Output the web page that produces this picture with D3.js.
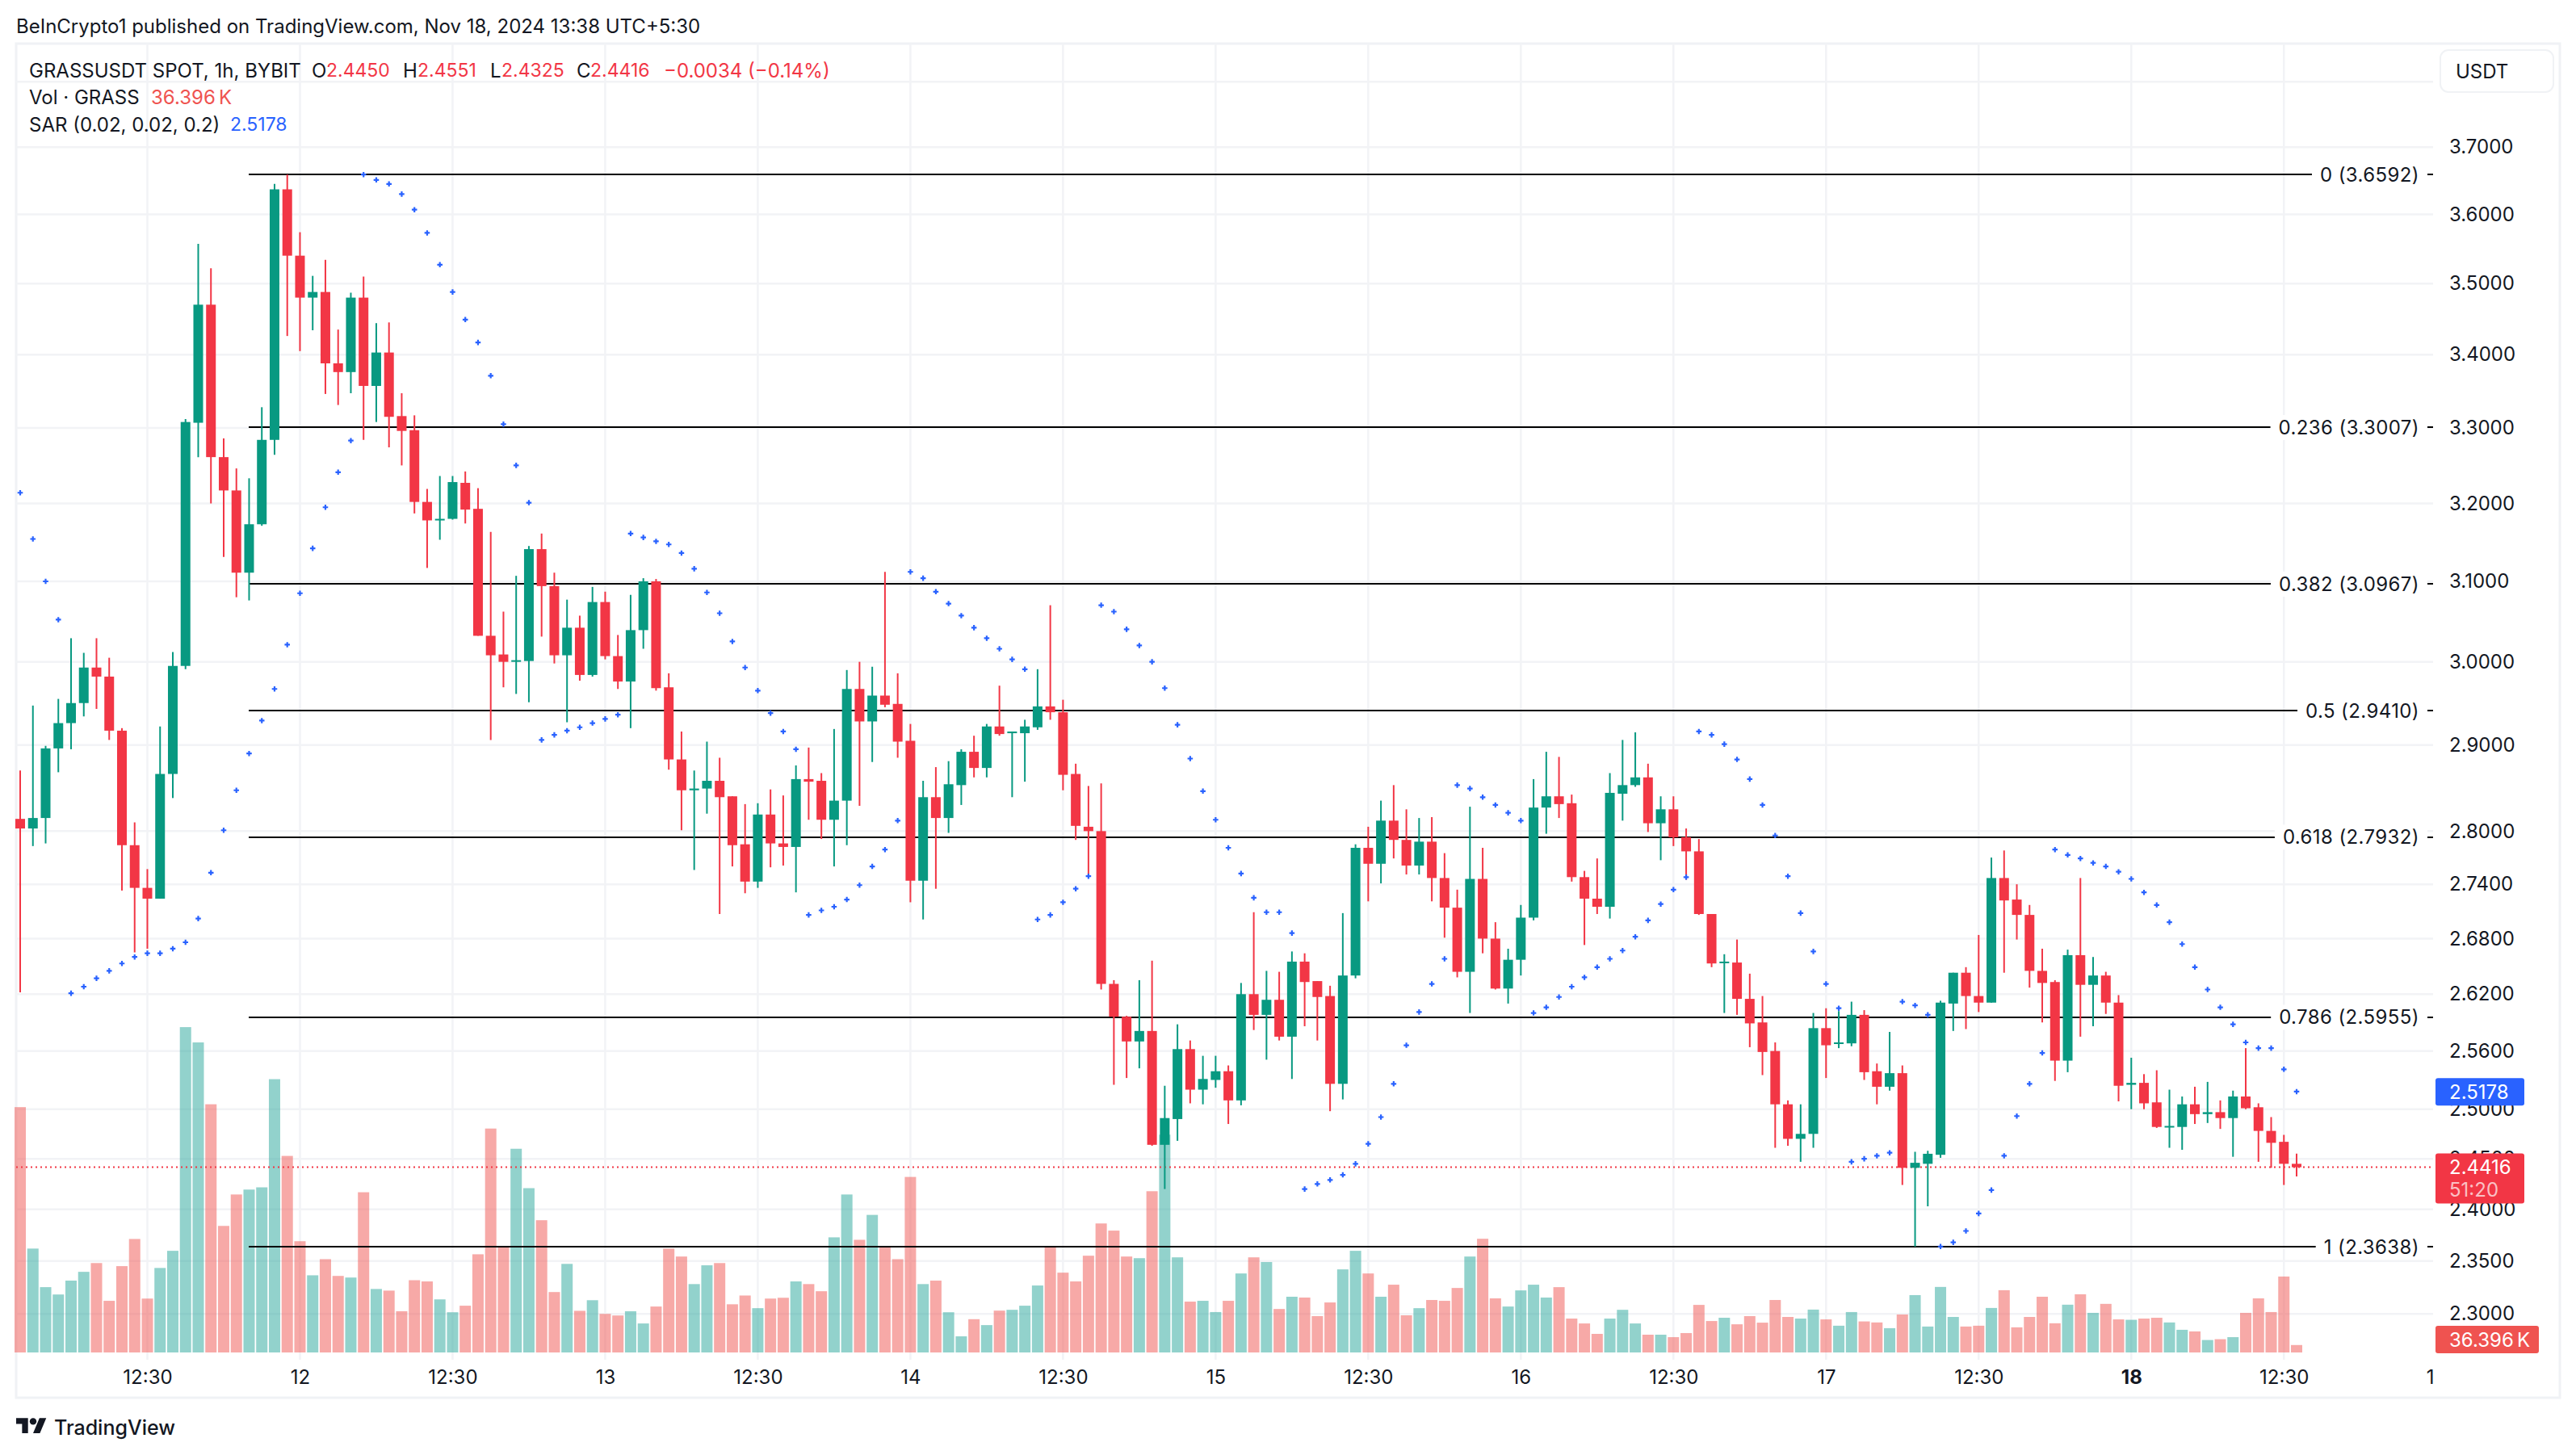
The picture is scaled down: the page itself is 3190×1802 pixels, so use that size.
<!DOCTYPE html>
<html>
<head>
<meta charset="utf-8">
<script src="https://cdn.jsdelivr.net/npm/d3@7"></script>
<style>
  body { margin: 0; background: #fff; }
  text { font-family: Inter, "Noto Sans", sans-serif; fill: #131722; }
</style>
</head>
<body>
<div id="chart"></div>
<script>
// hourly candles
var opens = [
  2.814,2.803,2.815,2.896,2.926,2.950,2.993,2.982,2.917,2.784,
  2.736,2.724,2.866,2.995,3.307,3.470,3.261,3.217,3.111,3.173,
  3.284,3.637,3.540,3.480,3.488,3.388,3.376,3.480,3.357,3.403,
  3.316,3.297,3.202,3.178,3.180,3.227,3.193,3.032,3.009,3.000,
  3.001,3.141,3.094,3.008,3.042,2.984,3.074,3.007,2.976,3.039,
  3.100,2.969,2.883,2.847,2.849,2.858,2.840,2.785,2.743,2.819,
  2.786,2.782,2.860,2.858,2.813,2.835,2.967,2.928,2.959,2.949,
  2.905,2.744,2.839,2.815,2.853,2.892,2.873,2.922,2.914,2.914,
  2.921,2.946,2.939,2.866,2.805,2.800,2.631,2.596,2.570,2.581,
  2.464,2.490,2.562,2.520,2.530,2.539,2.509,2.620,2.598,2.614,
  2.575,2.655,2.634,2.618,2.526,2.640,2.781,2.763,2.812,2.790,
  2.761,2.788,2.747,2.714,2.644,2.746,2.680,2.626,2.657,2.703,
  2.827,2.840,2.832,2.748,2.724,2.715,2.843,2.853,2.862,2.809,
  2.825,2.793,2.777,2.707,2.654,2.654,2.615,2.590,2.560,2.505,
  2.470,2.475,2.584,2.568,2.568,2.598,2.539,2.523,2.537,2.441,
  2.445,2.454,2.610,2.643,2.618,2.611,2.747,2.723,2.706,2.645,
  2.633,2.550,2.662,2.630,2.640,2.611,2.525,2.527,2.507,2.482,
  2.482,2.505,2.495,2.497,2.491,2.513,2.502,2.478,2.467,2.445];
var closes = [
  2.803,2.815,2.896,2.926,2.950,2.993,2.982,2.917,2.784,2.736,
  2.724,2.866,2.995,3.308,3.470,3.261,3.217,3.111,3.173,3.284,
  3.637,3.540,3.480,3.488,3.388,3.376,3.480,3.357,3.403,3.315,
  3.296,3.202,3.178,3.180,3.228,3.192,3.032,3.008,3.000,3.002,
  3.141,3.094,3.008,3.042,2.984,3.074,3.007,2.976,3.039,3.100,
  2.968,2.883,2.847,2.849,2.858,2.839,2.784,2.743,2.819,2.786,
  2.782,2.860,2.857,2.813,2.835,2.967,2.928,2.959,2.948,2.904,
  2.744,2.839,2.815,2.854,2.892,2.873,2.922,2.913,2.916,2.922,
  2.946,2.939,2.865,2.806,2.800,2.631,2.596,2.570,2.581,2.464,
  2.491,2.562,2.520,2.531,2.539,2.509,2.620,2.598,2.614,2.575,
  2.655,2.633,2.617,2.526,2.640,2.781,2.763,2.812,2.790,2.761,
  2.788,2.747,2.714,2.644,2.746,2.680,2.626,2.657,2.703,2.827,
  2.840,2.831,2.748,2.724,2.715,2.844,2.853,2.862,2.809,2.825,
  2.793,2.777,2.707,2.653,2.655,2.615,2.589,2.559,2.505,2.470,
  2.475,2.584,2.566,2.569,2.598,2.538,2.523,2.537,2.441,2.446,
  2.455,2.611,2.643,2.618,2.611,2.747,2.722,2.706,2.645,2.632,
  2.550,2.662,2.630,2.640,2.611,2.524,2.527,2.506,2.482,2.483,
  2.505,2.495,2.497,2.491,2.513,2.501,2.478,2.466,2.445,2.4416];
var highs = [
  2.870,2.947,2.899,2.955,3.029,3.011,3.029,3.005,2.920,2.810,
  2.757,2.922,3.012,3.312,3.557,3.522,3.286,3.246,3.233,3.328,
  3.645,3.659,3.574,3.511,3.534,3.435,3.487,3.510,3.444,3.445,
  3.347,3.317,3.219,3.236,3.236,3.242,3.220,3.163,3.062,3.107,
  3.145,3.161,3.111,3.077,3.057,3.093,3.087,3.033,3.083,3.104,
  3.103,2.986,2.916,2.870,2.904,2.885,2.840,2.831,2.832,2.848,
  2.841,2.876,2.897,2.867,2.919,2.990,3.000,2.994,3.112,2.986,
  2.925,2.858,2.874,2.881,2.895,2.911,2.925,2.971,2.916,2.930,
  2.991,3.070,2.954,2.878,2.852,2.855,2.635,2.597,2.635,2.656,
  2.524,2.588,2.571,2.555,2.555,2.545,2.632,2.709,2.645,2.644,
  2.666,2.664,2.634,2.629,2.708,2.785,2.805,2.835,2.853,2.825,
  2.815,2.816,2.775,2.734,2.828,2.781,2.698,2.669,2.717,2.860,
  2.892,2.886,2.842,2.755,2.769,2.867,2.906,2.915,2.878,2.840,
  2.840,2.803,2.791,2.707,2.663,2.679,2.642,2.618,2.569,2.509,
  2.505,2.600,2.605,2.602,2.612,2.603,2.547,2.580,2.545,2.457,
  2.458,2.613,2.643,2.649,2.684,2.770,2.778,2.740,2.717,2.669,
  2.635,2.668,2.747,2.660,2.644,2.619,2.553,2.536,2.540,2.520,
  2.513,2.523,2.528,2.509,2.519,2.563,2.506,2.492,2.474,2.4551];
var lows = [
  2.622,2.783,2.786,2.868,2.895,2.934,2.943,2.906,2.733,2.665,
  2.669,2.724,2.838,2.991,3.261,3.200,3.131,3.080,3.076,3.171,
  3.264,3.426,3.405,3.434,3.346,3.331,3.347,3.284,3.308,3.274,
  3.250,3.187,3.117,3.153,3.179,3.174,3.032,2.906,2.969,2.961,
  2.951,3.031,2.998,2.927,2.977,2.982,3.003,2.967,2.920,3.016,
  2.965,2.871,2.801,2.756,2.820,2.707,2.760,2.730,2.736,2.759,
  2.761,2.731,2.813,2.791,2.760,2.784,2.829,2.880,2.945,2.885,
  2.720,2.701,2.735,2.798,2.830,2.862,2.862,2.911,2.839,2.857,
  2.918,2.930,2.847,2.790,2.748,2.625,2.525,2.532,2.542,2.463,
  2.420,2.468,2.506,2.505,2.522,2.485,2.504,2.582,2.551,2.571,
  2.531,2.586,2.571,2.498,2.510,2.637,2.721,2.741,2.769,2.751,
  2.751,2.721,2.681,2.638,2.600,2.664,2.625,2.610,2.640,2.700,
  2.797,2.815,2.743,2.673,2.707,2.702,2.812,2.851,2.799,2.767,
  2.783,2.745,2.706,2.649,2.600,2.598,2.564,2.535,2.461,2.463,
  2.447,2.461,2.532,2.563,2.565,2.530,2.505,2.519,2.424,2.3638,
  2.403,2.451,2.581,2.583,2.601,2.611,2.643,2.679,2.627,2.590,
  2.529,2.538,2.575,2.586,2.599,2.508,2.500,2.500,2.481,2.461,
  2.459,2.485,2.486,2.480,2.452,2.500,2.447,2.441,2.424,2.4325];
// volume in thousands of GRASS
var volumes = [
  1202,509,320,284,352,395,438,253,423,556,
  264,414,498,1594,1519,1216,620,774,798,809,
  1339,963,545,378,457,375,367,785,311,303,
  202,354,348,260,197,229,481,1097,517,998,
  805,648,296,434,204,256,189,181,202,142,
  225,509,470,335,427,438,236,279,217,264,
  268,348,335,300,564,774,552,674,517,457,
  860,335,352,197,79,163,134,205,209,229,
  328,520,391,348,474,632,597,470,462,790,
  1067,466,249,253,198,253,387,466,443,213,
  273,269,178,245,407,498,387,273,332,182,
  217,257,253,316,470,557,265,225,304,332,
  269,320,166,142,91,166,209,142,87,87,
  75,95,233,154,170,138,178,146,257,174,
  166,210,162,131,198,152,147,119,186,281,
  127,321,174,127,131,218,305,123,174,273,
  143,234,285,194,238,162,160,166,170,147,
  111,103,61,65,75,194,265,198,372,36.396];
// parabolic SAR, one dot per candle
var sar = [
  3.214,3.154,3.100,3.052,2.621,2.628,2.637,2.645,2.653,2.660,
  2.664,2.664,2.669,2.676,2.702,2.753,2.801,2.847,2.890,2.929,
  2.967,3.021,3.085,3.142,3.195,3.241,3.283,3.659,3.651,3.645,
  3.630,3.607,3.573,3.527,3.488,3.449,3.417,3.371,3.305,3.250,
  3.201,2.906,2.912,2.917,2.921,2.926,2.931,2.936,3.161,3.156,
  3.151,3.147,3.136,3.116,3.086,3.060,3.025,2.993,2.965,2.938,
  2.916,2.895,2.706,2.711,2.715,2.723,2.739,2.760,2.779,2.812,
  3.112,3.104,3.087,3.072,3.057,3.042,3.029,3.016,3.003,2.991,
  2.701,2.706,2.720,2.735,2.749,3.070,3.062,3.040,3.020,3.000,
  2.968,2.924,2.884,2.846,2.813,2.781,2.752,2.725,2.709,2.709,
  2.686,2.420,2.425,2.429,2.434,2.445,2.465,2.492,2.526,2.566,
  2.601,2.631,2.658,2.853,2.849,2.839,2.830,2.821,2.812,2.600,
  2.606,2.617,2.628,2.638,2.649,2.658,2.667,2.682,2.700,2.718,
  2.734,2.748,2.916,2.912,2.901,2.883,2.860,2.830,2.795,2.749,
  2.708,2.666,2.631,2.605,2.447,2.450,2.453,2.456,2.612,2.608,
  2.598,2.364,2.368,2.379,2.396,2.419,2.453,2.493,2.526,2.558,
  2.779,2.773,2.769,2.764,2.760,2.754,2.746,2.731,2.717,2.698,
  2.674,2.649,2.625,2.606,2.588,2.569,2.563,2.563,2.541,2.518];

var fibLevels = [0, 0.236, 0.382, 0.5, 0.618, 0.786, 1];
var fibPrices = [3.6592, 3.3007, 3.0967, 2.941, 2.7932, 2.5955, 2.3638];
var gridPrices = [3.8,3.7,3.6,3.5,3.4,3.3,3.2,3.1,3,2.9,2.8,2.74,2.68,2.62,2.56,2.5,2.45,2.4,2.35,2.3];
var axisPrices = gridPrices.slice(1);
var timeBars = [10,22,34,46,58,70,82,94,106,118,130,142,154,166,178,190];
var timeLabels = ['12:30','12','12:30','13','12:30','14','12:30','15','12:30','16','12:30','17','12:30','18','12:30','1'];
var lastPrice = 2.4416, lastSar = 2.5178, lastVolume = 36.396;

var w = 3190, h = 1802;
var plotRight = 3013, frameL = 20, frameT = 54, frameR = 3170, frameB = 1731;
var up = '#089981', down = '#f23645', blue = '#2962ff';
var volUp = '#26a69a', volDown = '#ef5350';

var svg = d3.select('#chart').append('svg')
  .attr('width', w)
  .attr('height', h)
  .style('display', 'block');

var x = d3.scaleLinear().domain([0, 179]).range([25, 2844]);
var y = d3.scaleLog().domain([3.6592, 2.3638]).range([216, 1544]);
var vol = d3.scaleLinear().domain([0, 36.396]).range([1675, 1665.8]);

function barColor(i) { return closes[i] >= opens[i] ? up : down; }
var idx = d3.range(opens.length);

////////////////////////
// Frame and grid
////////////////////////
svg.append('rect')
  .attr('x', frameL).attr('y', frameT)
  .attr('width', frameR - frameL).attr('height', frameB - frameT)
  .attr('fill', 'none').attr('stroke', '#f0f2f5').attr('stroke-width', 3);

var grid = svg.append('g').attr('stroke', '#f2f3f6').attr('stroke-width', 2.5);
grid.selectAll('.h').data(gridPrices).enter().append('line')
  .attr('x1', frameL).attr('x2', plotRight)
  .attr('y1', function(d) { return y(d); })
  .attr('y2', function(d) { return y(d); });
// the last tick label sits past the plot edge and has no gridline
grid.selectAll('.v').data(timeBars.filter(function(d) { return x(d) < plotRight; })).enter().append('line')
  .attr('x1', function(d) { return x(d); })
  .attr('x2', function(d) { return x(d); })
  .attr('y1', frameT).attr('y2', 1684);

////////////////////////
// Volume
////////////////////////
svg.append('g').selectAll('rect')
  .data(idx).enter().append('rect')
  .attr('x', function(i) { return x(i) - 7; })
  .attr('width', 14)
  .attr('y', function(i) { return vol(volumes[i]); })
  .attr('height', function(i) { return vol(0) - vol(volumes[i]); })
  .attr('fill', function(i) { return closes[i] >= opens[i] ? volUp : volDown; })
  .attr('fill-opacity', 0.5);

////////////////////////
// Fib retracement
////////////////////////
var fib = svg.append('g');
fib.selectAll('line').data(fibPrices).enter().append('line')
  .attr('x1', x(18) - 0.5).attr('x2', plotRight)
  .attr('y1', function(d) { return Math.round(y(d)); })
  .attr('y2', function(d) { return Math.round(y(d)); })
  .attr('stroke', '#000').attr('stroke-width', 2)
  .attr('shape-rendering', 'crispEdges');
fib.selectAll('text').data(fibPrices).enter().append('text')
  .attr('x', 2996)
  .attr('y', function(d) { return y(d); })
  .attr('dy', '0.36em')
  .attr('text-anchor', 'end')
  .attr('font-size', 24)
  .attr('letter-spacing', 0.4)
  .text(function(d, i) { return fibLevels[i] + ' (' + d.toFixed(4) + ')'; })
  .each(function() {
    var b = this.getBBox();
    d3.select(this.parentNode).insert('rect', 'text')
      .attr('x', b.x - 10).attr('y', b.y - 1)
      .attr('width', b.width + 20).attr('height', b.height + 2)
      .attr('fill', '#fff');
  });

////////////////////////
// Last price line
////////////////////////
svg.append('line')
  .attr('x1', frameL).attr('x2', plotRight)
  .attr('y1', y(lastPrice)).attr('y2', y(lastPrice))
  .attr('stroke', down).attr('stroke-width', 2)
  .attr('stroke-dasharray', '2 4');

////////////////////////
// Candles
////////////////////////
var candle = svg.append('g').selectAll('g')
  .data(idx).enter().append('g');
candle.append('line')
  .attr('x1', function(i) { return x(i); })
  .attr('x2', function(i) { return x(i); })
  .attr('y1', function(i) { return y(highs[i]); })
  .attr('y2', function(i) { return y(lows[i]); })
  .attr('stroke', barColor).attr('stroke-width', 2);
candle.append('rect')
  .attr('x', function(i) { return x(i) - 6; })
  .attr('width', 12)
  .attr('y', function(i) { return y(Math.max(opens[i], closes[i])); })
  .attr('height', function(i) { return Math.max(2, Math.abs(y(opens[i]) - y(closes[i]))); })
  .attr('fill', barColor);

////////////////////////
// SAR
////////////////////////
svg.append('g').selectAll('path')
  .data(sar).enter().append('path')
  .attr('d', d3.symbol().type(d3.symbolCross).size(24))
  .attr('transform', function(d, i) { return 'translate(' + x(i) + ',' + y(d) + ')'; })
  .attr('fill', blue);

////////////////////////
// Axes
////////////////////////
var priceAxis = svg.append('g')
  .attr('transform', 'translate(' + plotRight + ',0)')
  .call(d3.axisRight(y).tickValues(axisPrices).tickSize(0).tickPadding(20).tickFormat(d3.format('.4f')));
priceAxis.select('.domain').remove();
priceAxis.selectAll('text').attr('font-size', 24).style('font-family', 'Inter');

var timeAxis = svg.append('g')
  .attr('transform', 'translate(0,1697)')
  .call(d3.axisBottom(x).tickValues(timeBars).tickSize(0).tickPadding(0)
    .tickFormat(function(d, i) { return timeLabels[i]; }));
timeAxis.select('.domain').remove();
timeAxis.selectAll('text').attr('font-size', 24).style('font-family', 'Inter')
  .attr('font-weight', function(d, i) { return timeLabels[i] === '18' ? 700 : 400; })
  .attr('dx', function(d) { return d === 190 ? -8 : 0; });

// price tags sit on top of the axis labels
function tag(yTop, height, width, color) {
  svg.append('rect')
    .attr('x', 3016).attr('y', yTop)
    .attr('width', width).attr('height', height)
    .attr('rx', 3).attr('fill', color);
}
function tagText(yMid, str, opacity) {
  svg.append('text')
    .attr('x', 3033).attr('y', yMid).attr('dy', '0.36em')
    .attr('font-size', 24).attr('fill-opacity', opacity)
    .style('fill', '#fff').text(str);
}
tag(y(lastSar) - 17, 34, 110, blue);
tagText(y(lastSar), lastSar.toFixed(4), 1);
tag(y(lastPrice) - 17, 62, 110, down);
tagText(y(lastPrice), lastPrice.toFixed(4), 1);
tagText(y(lastPrice) + 28, '51:20', 0.7);
tag(vol(0) - 33, 34, 128, volDown);
tagText(vol(0) - 16, lastVolume + '\u2009K', 1);

svg.append('rect')
  .attr('x', 3022).attr('y', 62).attr('width', 140).attr('height', 52)
  .attr('rx', 10).attr('fill', '#fff').attr('stroke', '#f0f2f5').attr('stroke-width', 2);
svg.append('text').attr('x', 3041).attr('y', 88).attr('dy', '0.36em')
  .attr('font-size', 24).text('USDT');

////////////////////////
// Legend and header
////////////////////////
function label(px, py, str, color, size) {
  svg.append('text').attr('x', px).attr('y', py).attr('dy', '0.36em')
    .attr('font-size', size || 24).style('fill', color || '#131722').text(str);
}
label(20, 32, 'BeInCrypto1 published on TradingView.com, Nov 18, 2024 13:38 UTC+5:30');
label(36, 87, 'GRASSUSDT SPOT, 1h, BYBIT');
label(386, 87, 'O');
label(404, 87, opens[179].toFixed(4), down, 23);
label(499, 87, 'H');
label(517, 87, highs[179].toFixed(4), down, 23);
label(607, 87, 'L');
label(621, 87, lows[179].toFixed(4), down, 23);
label(714, 87, 'C');
label(731, 87, closes[179].toFixed(4), down, 23);
label(822, 87, '\u22120.0034 (\u22120.14%)', down);
label(36, 120, 'Vol \u00b7 GRASS');
label(187, 120, lastVolume + '\u2009K', volDown);
label(36, 154, 'SAR (0.02, 0.02, 0.2)');
label(285, 154, lastSar.toFixed(4), blue, 23);

////////////////////////
// TradingView mark
////////////////////////
var logo = svg.append('g').attr('transform', 'translate(20,1752) scale(1.05)').attr('fill', '#131722');
logo.append('path').attr('d', 'M14 22H7V11H0V4h14v18zM28 22h-8l7.5-18h8L28 22z');
logo.append('circle').attr('cx', 20).attr('cy', 8).attr('r', 4);
svg.append('text').attr('x', 67).attr('y', 1768).attr('dy', '0.36em')
  .attr('font-size', 25).attr('font-weight', 500).text('TradingView');
</script>
</body>
</html>
